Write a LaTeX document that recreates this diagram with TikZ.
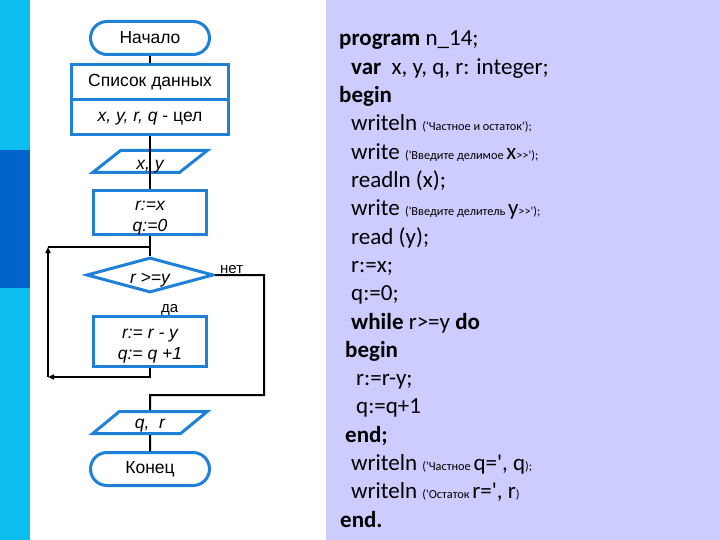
\documentclass[tikz,border=0pt]{standalone}
\usepackage{fontspec}
\setmainfont{Liberation Sans}
\newfontfamily\codefont{Carlito}
\usetikzlibrary{shapes.geometric,arrows.meta}
\definecolor{cyanstrip}{RGB}{12,190,240}
\definecolor{darkstrip}{RGB}{0,100,200}
\definecolor{lav}{RGB}{204,204,255}
\definecolor{fblue}{RGB}{30,128,214}
\newcommand{\codebig}{\fontsize{23}{27}\selectfont}
\newcommand{\codesmall}{\fontsize{12.3}{15}\selectfont}
\newcommand{\myq}{\textquotesingle}
\newcommand{\downtxt}[2]{\raisebox{-#1}[\height][\depth]{\begin{tabular}{@{}c@{}}#2\end{tabular}}}
\newcommand{\downone}[2]{\raisebox{-#1}[\height][\depth]{#2}}
\begin{document}
\begin{tikzpicture}[x=1pt,y=-1pt,
  shp/.style={draw=fblue, line width=3pt, fill=white, inner sep=0pt,
    font=\fontsize{17.5}{21}\selectfont, align=center},
  term/.style={shp, rectangle, rounded corners=16.5pt, minimum width=119pt, minimum height=33pt},
  proc/.style={shp, rectangle},
  io/.style={shp, trapezium, trapezium left angle=45, trapezium right angle=135,
    trapezium stretches=true, minimum height=22pt, minimum width=115pt},
  cond/.style={shp, diamond, aspect=3.6, minimum width=127pt, minimum height=35pt},
  conn/.style={black, line width=2pt},
  arr/.style={conn, -{Triangle[length=6pt,width=5pt]}},
  lbl/.style={font=\fontsize{15}{18}\selectfont, inner sep=0pt, anchor=base west},
  codeline/.style={anchor=base west, inner sep=0pt, font=\codefont\codebig}]
% backgrounds
\fill[cyanstrip] (0,0) rectangle (30,150);
\fill[darkstrip] (0,150) rectangle (30,288);
\fill[cyanstrip] (0,288) rectangle (30,540);
\fill[white] (30,0) rectangle (326,540);
\fill[lav] (326,0) rectangle (720,540);
\useasboundingbox (0,0) rectangle (720,540);

% flowchart nodes
\node[term] (start) at (150,38) {Начало};
\node[proc, minimum width=157pt, minimum height=35pt] (list1) at (150,82.5) {Список данных};
\node[proc, minimum width=157pt, minimum height=35pt] (list2) at (150,117.5) {\downone{1pt}{{\itshape x, y, r, q} - цел}};
\node[io, fill=none] (in1) at (150,161.5) {\downone{5pt}{\itshape x, y}};
\node[proc, minimum width=113pt, minimum height=43pt] (init) at (150,212.5) {\downtxt{4pt}{\itshape r:=x\\ \itshape q:=0}};
\node[cond] (dia) at (150,275) {\downone{5pt}{\itshape r >=y}};
\node[proc, minimum width=113pt, minimum height=50pt] (body) at (150,341) {\downtxt{4pt}{\itshape r:= r - y\\ \itshape q:= q +1}};
\node[io] (out) at (150,422.5) {\downone{3pt}{\itshape q,\ \ r}};
\node[term] (fin) at (150,469) {Конец};

\node[lbl] (no) at (220,273) {нет};
\node[lbl] (yes) at (161,312) {да};

% connectors
\coordinate (j1) at (150,247);
\coordinate (bb) at (150,377);
\coordinate (lb) at (48,377);
\coordinate (lt) at (48,247);
\coordinate (nb) at (264,395);
\coordinate (nj) at (150,395);
\draw[conn] (start) -- (list1);
\draw[conn] (list2) -- (init);
\draw[conn] (init) -- (dia);
\draw[arr] (body.south) -- (bb) -- (lb);
\draw[arr] (lb) -- (lt);
\draw[conn] (lt) -- (j1);
\draw[conn] (dia.east) -- (dia.east -| nb) -- (nb) -- (nj) -- (out.north);
\draw[conn] (out) -- (fin);

% program text
\node[codeline] (p1) at (339,46) {\bfseries program\mdseries\ n\_14;};
\node[codeline] (p2) at (351,74.3) {\bfseries var\mdseries\ \ x, y, q, r: integer;};
\node[codeline] (p3) at (339,102.6) {\bfseries begin};
\node[codeline] (p4) at (351,130.9) {writeln {\codesmall(\myq Частное и остаток\myq);}};
\node[codeline] (p5) at (351,159.2) {write {\codesmall(\myq Введите делимое }x{\codesmall>>\myq);}};
\node[codeline] (p6) at (351,187.5) {readln (x);};
\node[codeline] (p7) at (351,215.8) {write {\codesmall(\myq Введите делитель }y{\codesmall>>\myq);}};
\node[codeline] (p8) at (351,244.1) {read (y);};
\node[codeline] (p9) at (351,272.4) {r:=x;};
\node[codeline] (p10) at (351,300.7) {q:=0;};
\node[codeline] (p11) at (351,329) {\bfseries while\mdseries\ r>=y \bfseries do};
\node[codeline] (p12) at (345,357.3) {\bfseries begin};
\node[codeline] (p13) at (356,385.6) {r:=r-y;};
\node[codeline] (p14) at (356,413.9) {q:=q+1};
\node[codeline] (p15) at (345,442.2) {\bfseries end;};
\node[codeline] (p16) at (351,470.5) {writeln {\codesmall(\myq Частное }q=\myq, q{\codesmall);}};
\node[codeline] (p17) at (351,498.8) {writeln {\codesmall(\myq Остаток }r=\myq, r{\codesmall)}};
\node[codeline] (p18) at (340,527.1) {\bfseries end.};
\end{tikzpicture}
\end{document}
